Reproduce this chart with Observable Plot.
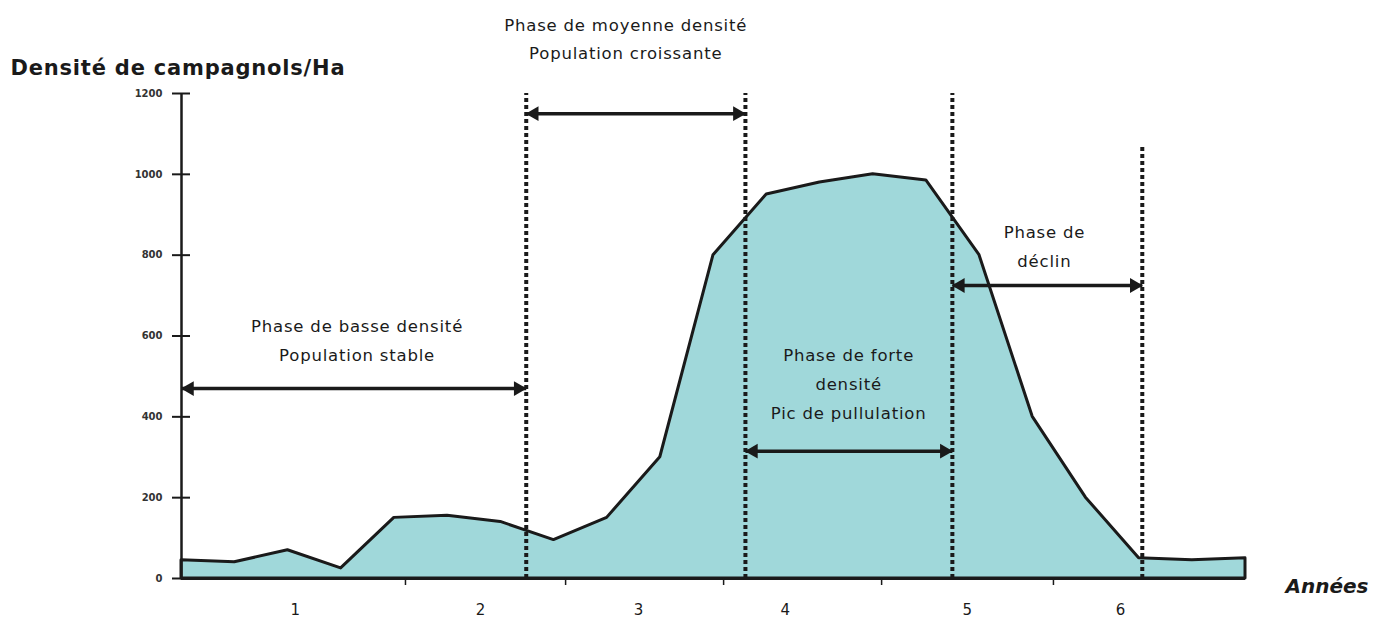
<!DOCTYPE html>
<html><head><meta charset="utf-8">
<script src="https://cdn.jsdelivr.net/npm/d3@7"></script>
<script src="https://cdn.jsdelivr.net/npm/@observablehq/plot@0.6"></script>
<style>body{margin:0;background:#fff;} #chart svg{display:block;}</style>
</head><body><div id="chart"></div>
<script>
// Data
const pointIndex = [0,1,2,3,4,5,6,7,8,9,10,11,12,13,14,15,16,17,18,19,20];
const density = [45,40,70,25,150,155,140,95,150,300,800,950,980,1000,985,800,400,200,50,45,50];
const yTicks = [0,200,400,600,800,1000,1200];
const xTickPos = [4.21,7.22,10.19,13.16,16.39];
const yearLabels = ["1","2","3","4","5","6"];
const yearPos = [2.14,5.62,8.59,11.35,14.77,17.65];
const phaseBounds = [6.48,10.6,14.49,18.06];
const phaseTop = [1200,1200,1200,1070];
const arrowStart = [0,6.48,10.6,14.49];
const arrowEnd = [6.48,10.6,14.49,18.06];
const arrowLevel = [470,1150,315,725];
const phaseText = ["Phase de basse densité\nPopulation stable","Phase de moyenne densité\nPopulation croissante","Phase de forte\ndensité\nPic de pullulation","Phase de\ndéclin"];
const phaseTextX = [3.3,8.35,12.54,16.22];
const phaseTextY = [597,1343,490,829];
const yTitle = "Densité de campagnols/Ha";
const xTitle = "Années";

const pts = pointIndex.map((i,k)=>({x:i,y:density[k]}));
const bounds = phaseBounds.map((b,k)=>({x:b,top:phaseTop[k]}));
const arrows = arrowStart.map((s,k)=>({x1:s,x2:arrowEnd[k],y:arrowLevel[k]}));
const labels = phaseText.map((t,k)=>({t,x:phaseTextX[k],y:phaseTextY[k]}));
const years = yearLabels.map((t,k)=>({t,x:yearPos[k]}));
const ink = "#1a1a1a";
const font = "DejaVu Sans";

const chart = Plot.plot({
  width:1388, height:631,
  marginTop:93, marginLeft:181, marginRight:143, marginBottom:53,
  style:{fontFamily:font, background:"#fff", color:ink},
  x:{domain:[0,20]},
  y:{domain:[0,1200]},
  marks:[
    Plot.areaY(pts,{x:"x",y:"y",fill:"#a0d8da"}),
    Plot.ruleX(bounds,{x:"x",y1:0,y2:"top",stroke:ink,strokeWidth:4,strokeDasharray:"4,3"}),
    Plot.areaY(pts,{x:"x",y:"y",fill:"none",stroke:ink,strokeWidth:3,strokeLinejoin:"round"}),
    Plot.ruleX([0],{y1:0,y2:1200,stroke:ink,strokeWidth:2.5}),
    Plot.ruleY([0],{x1:0,x2:20,stroke:ink,strokeWidth:3}),
    Plot.axisY({ticks:yTicks,tickFormat:d=>String(d),tickSize:18,dx:9,tickPadding:10,label:null,fontSize:10,fontWeight:"bold",stroke:ink,strokeWidth:2,fill:"#333"}),
    Plot.axisX({ticks:xTickPos,tickSize:7,tickFormat:()=>"",label:null,stroke:ink,strokeWidth:1.5}),
    Plot.text(years,{x:"x",text:"t",frameAnchor:"bottom",dy:36,fontSize:15,fill:ink}),
    Plot.link(arrows,{x1:"x1",x2:"x2",y1:"y",y2:"y",stroke:ink,strokeWidth:3.5}),
    Plot.dot(arrows,{x:"x1",y:"y",symbol:"triangle",r:5.5,rotate:-90,dx:8,fill:ink,stroke:"none"}),
    Plot.dot(arrows,{x:"x2",y:"y",symbol:"triangle",r:5.5,rotate:90,dx:-8,fill:ink,stroke:"none"}),
    Plot.text(labels,{x:"x",y:"y",text:"t",fontSize:16.5,lineHeight:1.75,fill:ink,style:"letter-spacing:0.8px"}),
    Plot.text([yTitle],{frameAnchor:"top-left",textAnchor:"start",dx:-171,dy:-33,fontSize:21,fontWeight:"bold",fill:ink}),
    Plot.text([xTitle],{frameAnchor:"bottom-right",textAnchor:"end",dx:123,dy:14,fontSize:20,fontWeight:"bold",fontStyle:"italic",fill:ink})
  ]
});
// widen letter spacing of titles and phase labels (Comic-like wide face)
chart.querySelectorAll("text").forEach(t=>{
  const s = t.closest("g");
  if (t.textContent === yTitle) t.setAttribute("letter-spacing","0.8");
});
chart.querySelectorAll("g[aria-label='text'] text").forEach(t=>{
  if (phaseText.some(p=>p.split("\n").some(l=>t.textContent.includes(l.slice(0,5))))) t.setAttribute("letter-spacing","0.8");
});
document.getElementById("chart").appendChild(chart);
</script>
</body></html>
